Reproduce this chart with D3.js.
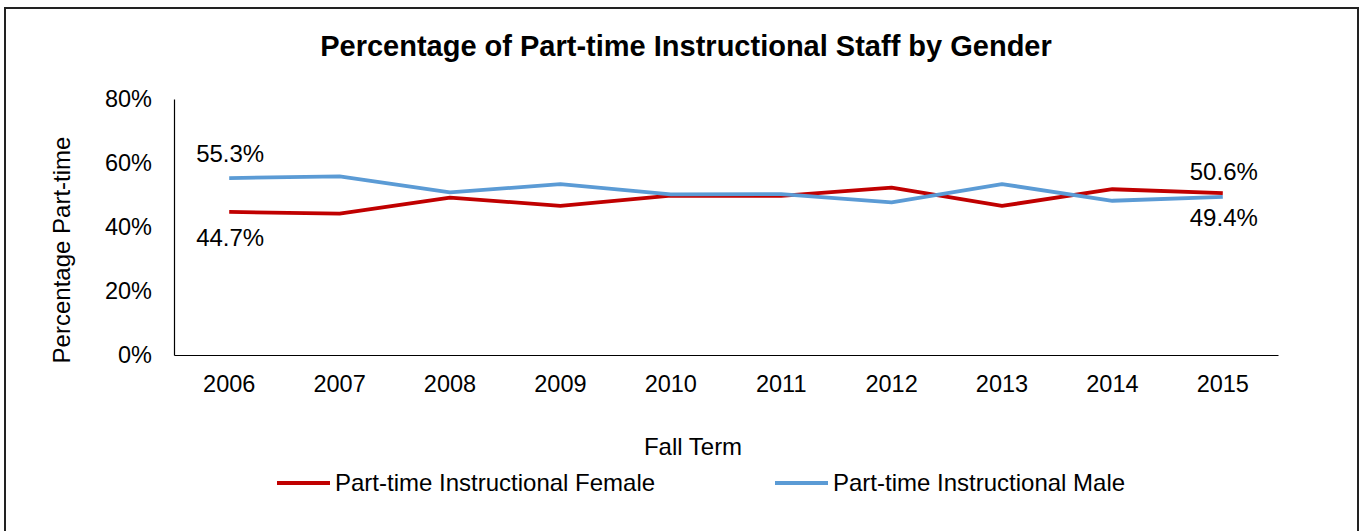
<!DOCTYPE html>
<html>
<head>
<meta charset="utf-8">
<script src="https://cdn.jsdelivr.net/npm/d3@7/dist/d3.min.js"></script>
<style>
  html, body { margin: 0; padding: 0; background: #fff; }
  svg { display: block; font-family: "Liberation Sans", Arial, sans-serif; }
</style>
</head>
<body>
<svg id="chart" width="1364" height="531"></svg>
<script>
// Fall terms on the x axis
const years = ["2006", "2007", "2008", "2009", "2010", "2011", "2012", "2013", "2014", "2015"];
// Share of part-time instructional staff (%)
const femaleValues = [44.7, 44.2, 49.2, 46.6, 49.8, 49.7, 52.3, 46.6, 51.8, 50.6];
const maleValues   = [55.3, 55.8, 50.8, 53.4, 50.2, 50.3, 47.7, 53.4, 48.2, 49.4];
const yTicks = [0, 20, 40, 60, 80];
const seriesNames = ["Part-time Instructional Female", "Part-time Instructional Male"];
const seriesColors = ["#C00000", "#5B9BD5"];

const svg = d3.select("#chart");
const W = 1364, H = 531;
const margin = { left: 174, right: 86, top: 99, bottom: 176 };

// chart frame
svg.append("rect")
  .attr("x", 5).attr("y", 8)
  .attr("width", 1353).attr("height", 530)
  .attr("fill", "#fff").attr("stroke", "#222").attr("stroke-width", 2);

const x = d3.scaleBand().domain(years).range([margin.left, W - margin.right]);
const y = d3.scaleLinear().domain([0, 80]).range([H - margin.bottom, margin.top]);

// title
svg.append("text")
  .attr("x", 686).attr("y", 56)
  .attr("text-anchor", "middle")
  .attr("font-size", 29).attr("font-weight", "bold")
  .text("Percentage of Part-time Instructional Staff by Gender");

// y axis
const yAxis = d3.axisLeft(y).tickValues(yTicks).tickFormat(d => d + "%").tickSize(0).tickPadding(22);
const gy = svg.append("g").attr("transform", `translate(${margin.left},0)`).call(yAxis);
gy.select(".domain").attr("stroke", "#000").attr("stroke-width", 1.2);
gy.selectAll("text").attr("font-size", 23.5).attr("fill", "#000").attr("font-family", null);

// x axis
const xAxis = d3.axisBottom(x).tickSize(0).tickPadding(20);
const gx = svg.append("g").attr("transform", `translate(0,${y(0)})`).call(xAxis);
gx.select(".domain").attr("stroke", "#000").attr("stroke-width", 1.2);
gx.selectAll("text").attr("font-size", 23.5).attr("fill", "#000").attr("font-family", null);

// axis titles
svg.append("text")
  .attr("x", 693).attr("y", 455)
  .attr("text-anchor", "middle").attr("font-size", 24)
  .text("Fall Term");
svg.append("text")
  .attr("transform", "translate(70,250) rotate(-90)")
  .attr("text-anchor", "middle").attr("font-size", 24)
  .text("Percentage Part-time");

// lines
const line = d3.line()
  .x((d, i) => x(years[i]) + x.bandwidth() / 2)
  .y(d => y(d));

[femaleValues, maleValues].forEach((vals, k) => {
  svg.append("path")
    .datum(vals)
    .attr("fill", "none")
    .attr("stroke", seriesColors[k])
    .attr("stroke-width", 3.8)
    .attr("stroke-linejoin", "round")
    .attr("d", line);
});

// end-point value labels
const fmt = v => v.toFixed(1) + "%";
const cx = yr => x(yr) + x.bandwidth() / 2;
const labels = [
  { yr: years[0], v: maleValues[0], dy: -16 },
  { yr: years[0], v: femaleValues[0], dy: 34 },
  { yr: years[9], v: femaleValues[9], dy: -13 },
  { yr: years[9], v: maleValues[9], dy: 29 }
];
svg.selectAll(".vlabel")
  .data(labels)
  .join("text")
  .attr("class", "vlabel")
  .attr("x", d => cx(d.yr) + 1)
  .attr("y", d => y(d.v) + d.dy)
  .attr("text-anchor", "middle")
  .attr("font-size", 24)
  .text(d => fmt(d.v));

// legend
const legendItems = [
  { x0: 277, name: seriesNames[0], color: seriesColors[0] },
  { x0: 775, name: seriesNames[1], color: seriesColors[1] }
];
const lg = svg.selectAll(".legend").data(legendItems).join("g").attr("class", "legend");
lg.append("line")
  .attr("x1", d => d.x0).attr("x2", d => d.x0 + 53)
  .attr("y1", 483).attr("y2", 483)
  .attr("stroke", d => d.color).attr("stroke-width", 3.8);
lg.append("text")
  .attr("x", d => d.x0 + 58).attr("y", 491)
  .attr("font-size", 24)
  .text(d => d.name);
</script>
</body>
</html>
